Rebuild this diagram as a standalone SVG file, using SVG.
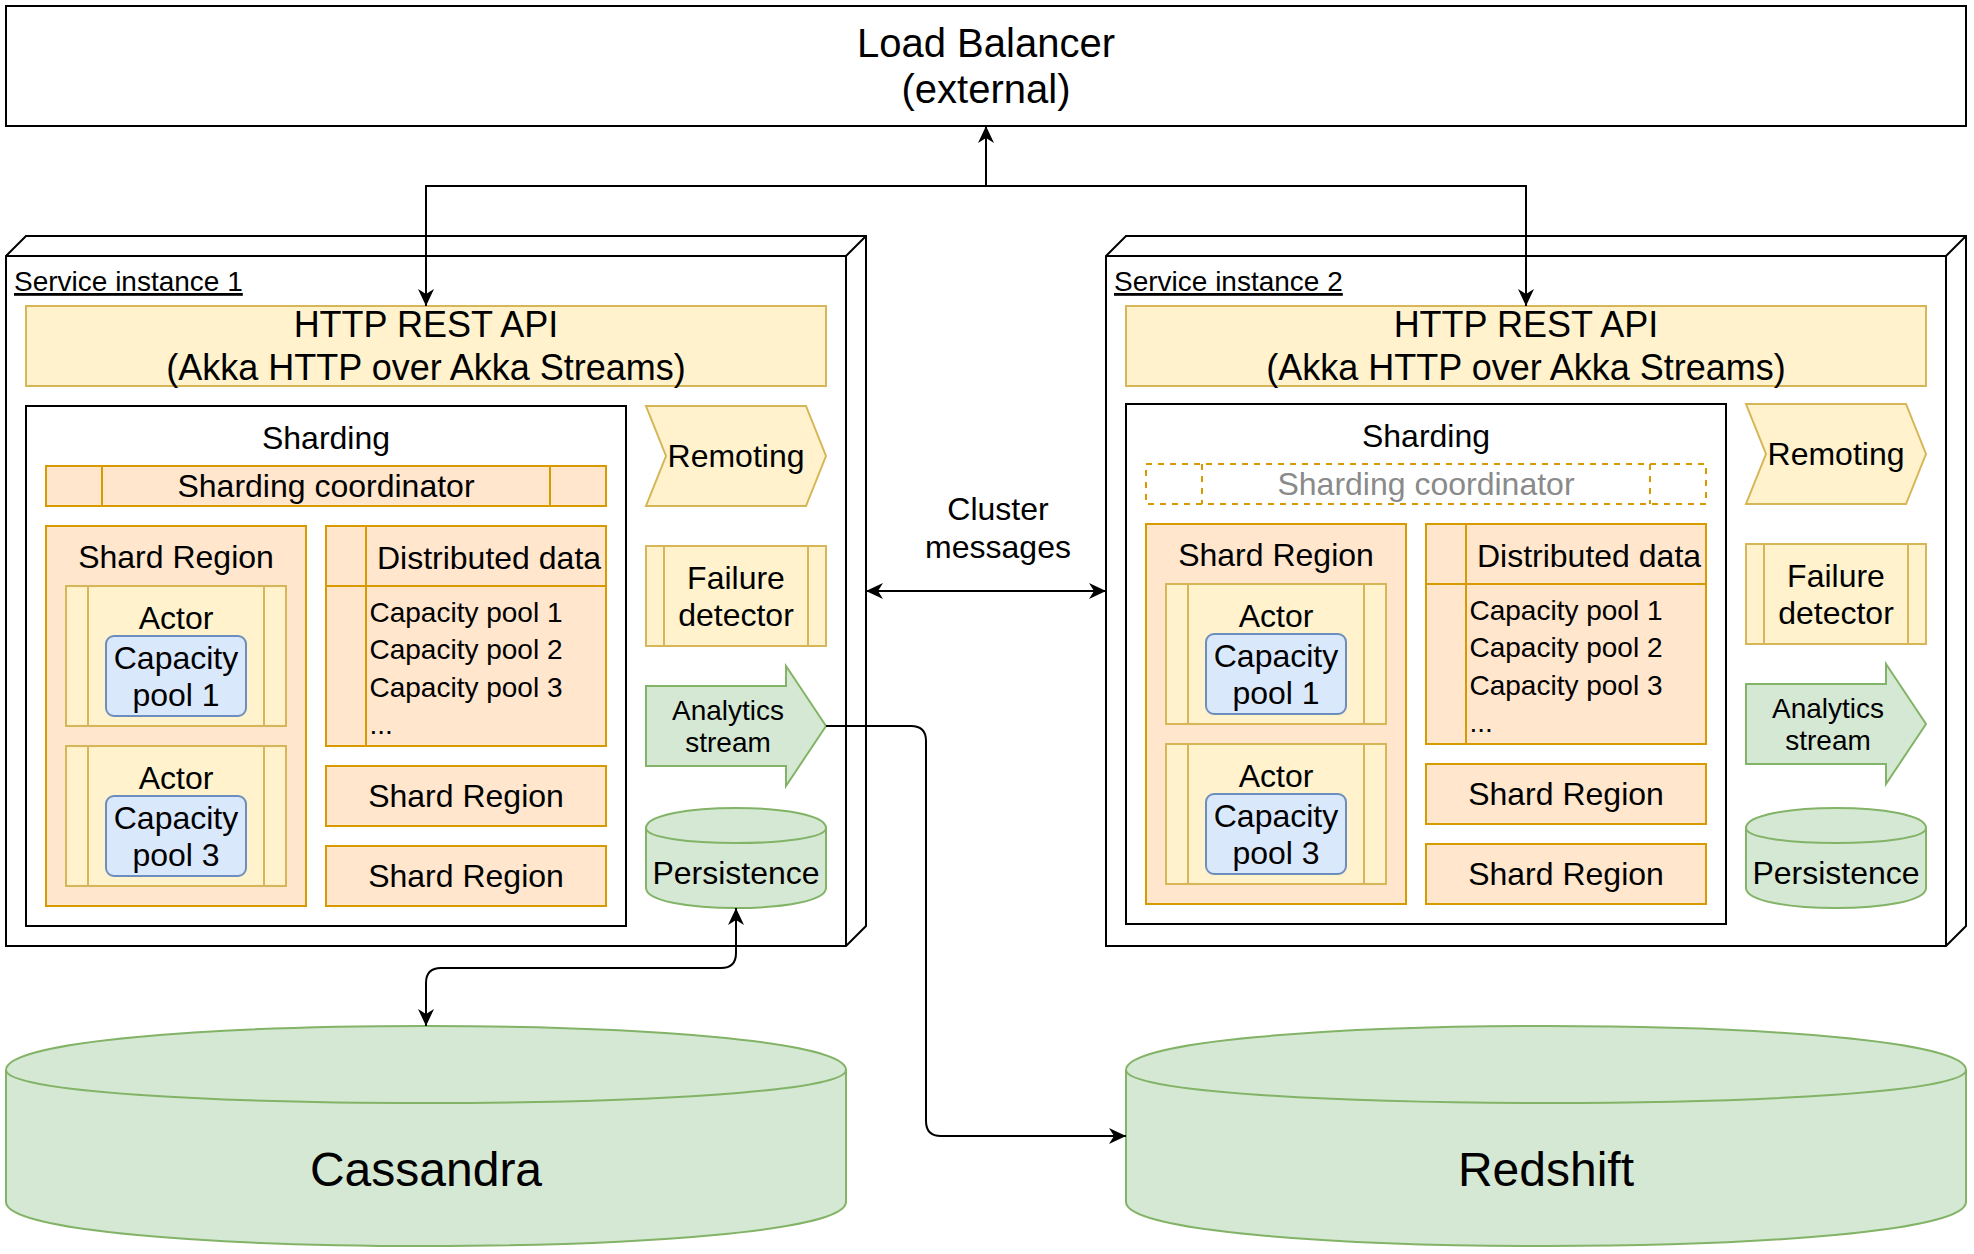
<svg xmlns="http://www.w3.org/2000/svg" width="1974" height="1254" viewBox="0 0 1974 1254">
<style>
text{font-family:"Liberation Sans",Arial,sans-serif;fill:#000}
.f24{font-size:28px}.f32{font-size:32px}.f36{font-size:36px}.f40{font-size:40px}.f48{font-size:48px}
.c{text-anchor:middle}
.k{fill:#fff;stroke:#000;stroke-width:2}
.y{fill:#fff2cc;stroke:#d6b656;stroke-width:2}
.o{fill:#ffe6cc;stroke:#d79b00;stroke-width:2}
.od{fill:none;stroke:#d79b00;stroke-width:2;stroke-dasharray:6 6}
.b{fill:#dae8fc;stroke:#6c8ebf;stroke-width:2}
.g{fill:#d5e8d4;stroke:#82b366;stroke-width:2}
.ln{fill:none;stroke:#000;stroke-width:2}
.lny{fill:none;stroke:#d6b656;stroke-width:2}
.lno{fill:none;stroke:#d79b00;stroke-width:2}
.lng{fill:none;stroke:#82b366;stroke-width:2}
.edge{fill:none;stroke:#000;stroke-width:2}
.gray{fill:#8a8a8a}
</style>
<defs>
<marker id="arr" viewBox="0 0 17 16" refX="17" refY="8" markerWidth="17" markerHeight="16" markerUnits="userSpaceOnUse" orient="auto-start-reverse">
<path d="M17,8 L0,0 L5,8 L0,16 Z" fill="#000"/>
</marker>
</defs>

<g id="load-balancer">
<rect class="k" x="6" y="6" width="1960" height="120"/>
<text class="f40 c" x="986" y="56.5">Load Balancer</text>
<text class="f40 c" x="986" y="103">(external)</text>
</g>

<!-- Service instance 1 -->
<g id="service-instance-1">
<path class="k" d="M6,256 L26,236 L866,236 L866,926 L846,946 L6,946 Z"/>
<path class="ln" d="M6,256 H846 L866,236 M846,256 V946"/>
<text class="f24" x="14" y="291" text-decoration="underline">Service instance 1</text>
</g>
<g id="http-api-1">
<rect class="y" x="26" y="306" width="800" height="80"/>
<text class="f36 c" x="426" y="337">HTTP REST API</text>
<text class="f36 c" x="426" y="380">(Akka HTTP over Akka Streams)</text>
</g>
<g id="sharding-1">
<rect class="k" x="26" y="406" width="600" height="520"/>
<text class="f32 c" x="326" y="449">Sharding</text>
</g>
<g id="sharding-coordinator-1">
<rect class="o" x="46" y="466" width="560" height="40"/>
<path class="lno" d="M102,466 V506 M550,466 V506"/>
<text class="f32 c" x="326" y="497">Sharding coordinator</text>
</g>
<g id="shard-region-1a">
<rect class="o" x="46" y="526" width="260" height="380"/>
<text class="f32 c" x="176" y="568">Shard Region</text>
</g>
<g id="actor-1a">
<rect class="y" x="66" y="586" width="220" height="140"/>
<path class="lny" d="M88,586 V726 M264,586 V726"/>
<text class="f32 c" x="176" y="629">Actor</text>
</g>
<g id="capacity-pool-1a">
<rect class="b" x="106" y="636" width="140" height="80" rx="8"/>
<text class="f32 c" x="176" y="669">Capacity</text>
<text class="f32 c" x="176" y="706">pool 1</text>
</g>
<g id="actor-1b">
<rect class="y" x="66" y="746" width="220" height="140"/>
<path class="lny" d="M88,746 V886 M264,746 V886"/>
<text class="f32 c" x="176" y="789">Actor</text>
</g>
<g id="capacity-pool-1b">
<rect class="b" x="106" y="796" width="140" height="80" rx="8"/>
<text class="f32 c" x="176" y="829">Capacity</text>
<text class="f32 c" x="176" y="866">pool 3</text>
</g>
<g id="distributed-data-1">
<rect class="o" x="326" y="526" width="280" height="220"/>
<path class="lno" d="M366,526 V746 M326,586 H606"/>
<text class="f32 c" x="489" y="569">Distributed data</text>
<text class="f24" x="369.5" y="621.7">Capacity pool 1</text>
<text class="f24" x="369.5" y="659">Capacity pool 2</text>
<text class="f24" x="369.5" y="696.7">Capacity pool 3</text>
<text class="f24" x="369.5" y="734">...</text>
</g>
<g id="shard-region-1b">
<rect class="o" x="326" y="766" width="280" height="60"/>
<text class="f32 c" x="466" y="807">Shard Region</text>
</g>
<g id="shard-region-1c">
<rect class="o" x="326" y="846" width="280" height="60"/>
<text class="f32 c" x="466" y="887">Shard Region</text>
</g>
<g id="remoting-1">
<polygon class="y" points="646,406 806,406 826,456 806,506 646,506 666,456"/>
<text class="f32 c" x="736" y="467">Remoting</text>
</g>
<g id="failure-detector-1">
<rect class="y" x="646" y="546" width="180" height="100"/>
<path class="lny" d="M664,546 V646 M808,546 V646"/>
<text class="f32 c" x="736" y="589">Failure</text>
<text class="f32 c" x="736" y="626">detector</text>
</g>
<g id="analytics-stream-1">
<polygon class="g" points="646,686 786,686 786,666 826,726 786,786 786,766 646,766"/>
<text class="f24 c" x="728" y="720">Analytics</text>
<text class="f24 c" x="728" y="752">stream</text>
</g>
<g id="persistence-1">
<path class="g" d="M646,828 C646,801.3 826,801.3 826,828 L826,888 C826,914.7 646,914.7 646,888 Z"/>
<path class="lng" d="M646,828 C646,848 826,848 826,828"/>
<text class="f32 c" x="736" y="884">Persistence</text>
</g>

<!-- Service instance 2 -->
<g id="service-instance-2">
<path class="k" d="M1106,256 L1126,236 L1966,236 L1966,926 L1946,946 L1106,946 Z"/>
<path class="ln" d="M1106,256 H1946 L1966,236 M1946,256 V946"/>
<text class="f24" x="1114" y="291" text-decoration="underline">Service instance 2</text>
</g>
<g id="http-api-2">
<rect class="y" x="1126" y="306" width="800" height="80"/>
<text class="f36 c" x="1526" y="337">HTTP REST API</text>
<text class="f36 c" x="1526" y="380">(Akka HTTP over Akka Streams)</text>
</g>
<g id="sharding-2" transform="translate(1100,-2)">
<rect class="k" x="26" y="406" width="600" height="520"/>
<text class="f32 c" x="326" y="449">Sharding</text>
</g>
<g id="sharding-coordinator-2" transform="translate(1100,-2)">
<rect class="od" x="46" y="466" width="560" height="40"/>
<path class="od" d="M102,466 V506 M550,466 V506"/>
<text class="f32 c gray" x="326" y="497">Sharding coordinator</text>
</g>
<g id="shard-region-2a" transform="translate(1100,-2)">
<rect class="o" x="46" y="526" width="260" height="380"/>
<text class="f32 c" x="176" y="568">Shard Region</text>
</g>
<g id="actor-2a" transform="translate(1100,-2)">
<rect class="y" x="66" y="586" width="220" height="140"/>
<path class="lny" d="M88,586 V726 M264,586 V726"/>
<text class="f32 c" x="176" y="629">Actor</text>
</g>
<g id="capacity-pool-2a" transform="translate(1100,-2)">
<rect class="b" x="106" y="636" width="140" height="80" rx="8"/>
<text class="f32 c" x="176" y="669">Capacity</text>
<text class="f32 c" x="176" y="706">pool 1</text>
</g>
<g id="actor-2b" transform="translate(1100,-2)">
<rect class="y" x="66" y="746" width="220" height="140"/>
<path class="lny" d="M88,746 V886 M264,746 V886"/>
<text class="f32 c" x="176" y="789">Actor</text>
</g>
<g id="capacity-pool-2b" transform="translate(1100,-2)">
<rect class="b" x="106" y="796" width="140" height="80" rx="8"/>
<text class="f32 c" x="176" y="829">Capacity</text>
<text class="f32 c" x="176" y="866">pool 3</text>
</g>
<g id="distributed-data-2" transform="translate(1100,-2)">
<rect class="o" x="326" y="526" width="280" height="220"/>
<path class="lno" d="M366,526 V746 M326,586 H606"/>
<text class="f32 c" x="489" y="569">Distributed data</text>
<text class="f24" x="369.5" y="621.7">Capacity pool 1</text>
<text class="f24" x="369.5" y="659">Capacity pool 2</text>
<text class="f24" x="369.5" y="696.7">Capacity pool 3</text>
<text class="f24" x="369.5" y="734">...</text>
</g>
<g id="shard-region-2b" transform="translate(1100,-2)">
<rect class="o" x="326" y="766" width="280" height="60"/>
<text class="f32 c" x="466" y="807">Shard Region</text>
</g>
<g id="shard-region-2c" transform="translate(1100,-2)">
<rect class="o" x="326" y="846" width="280" height="60"/>
<text class="f32 c" x="466" y="887">Shard Region</text>
</g>
<g id="remoting-2" transform="translate(1100,-2)">
<polygon class="y" points="646,406 806,406 826,456 806,506 646,506 666,456"/>
<text class="f32 c" x="736" y="467">Remoting</text>
</g>
<g id="failure-detector-2" transform="translate(1100,-2)">
<rect class="y" x="646" y="546" width="180" height="100"/>
<path class="lny" d="M664,546 V646 M808,546 V646"/>
<text class="f32 c" x="736" y="589">Failure</text>
<text class="f32 c" x="736" y="626">detector</text>
</g>
<g id="analytics-stream-2" transform="translate(1100,-2)">
<polygon class="g" points="646,686 786,686 786,666 826,726 786,786 786,766 646,766"/>
<text class="f24 c" x="728" y="720">Analytics</text>
<text class="f24 c" x="728" y="752">stream</text>
</g>
<g id="persistence-2">
<path class="g" d="M1746,828 C1746,801.3 1926,801.3 1926,828 L1926,888 C1926,914.7 1746,914.7 1746,888 Z"/>
<path class="lng" d="M1746,828 C1746,848 1926,848 1926,828"/>
<text class="f32 c" x="1836" y="884">Persistence</text>
</g>

<g id="cassandra">
<path class="g" d="M6,1070 C6,1011.3 846,1011.3 846,1070 L846,1202 C846,1260.7 6,1260.7 6,1202 Z"/>
<path class="lng" d="M6,1070 C6,1114 846,1114 846,1070"/>
<text class="f48 c" x="426" y="1186">Cassandra</text>
</g>
<g id="redshift">
<path class="g" d="M1126,1070 C1126,1011.3 1966,1011.3 1966,1070 L1966,1202 C1966,1260.7 1126,1260.7 1126,1202 Z"/>
<path class="lng" d="M1126,1070 C1126,1114 1966,1114 1966,1070"/>
<text class="f48 c" x="1546" y="1186">Redshift</text>
</g>

<g id="connectors">
<path class="edge" d="M986,126 V186 H426 V306" marker-start="url(#arr)" marker-end="url(#arr)"/>
<path class="edge" d="M986,186 H1526 V306" marker-end="url(#arr)"/>
<path class="edge" d="M866,591 H1106" marker-start="url(#arr)" marker-end="url(#arr)"/>
<path class="edge" d="M826,726 H911 Q926,726 926,741 V1121 Q926,1136 941,1136 H1126" marker-end="url(#arr)"/>
<path class="edge" d="M736,908 V953 Q736,968 721,968 H441 Q426,968 426,983 V1026" marker-start="url(#arr)" marker-end="url(#arr)"/>
<text class="f32 c" x="998" y="520">Cluster</text>
<text class="f32 c" x="998" y="558">messages</text>
</g>
</svg>
